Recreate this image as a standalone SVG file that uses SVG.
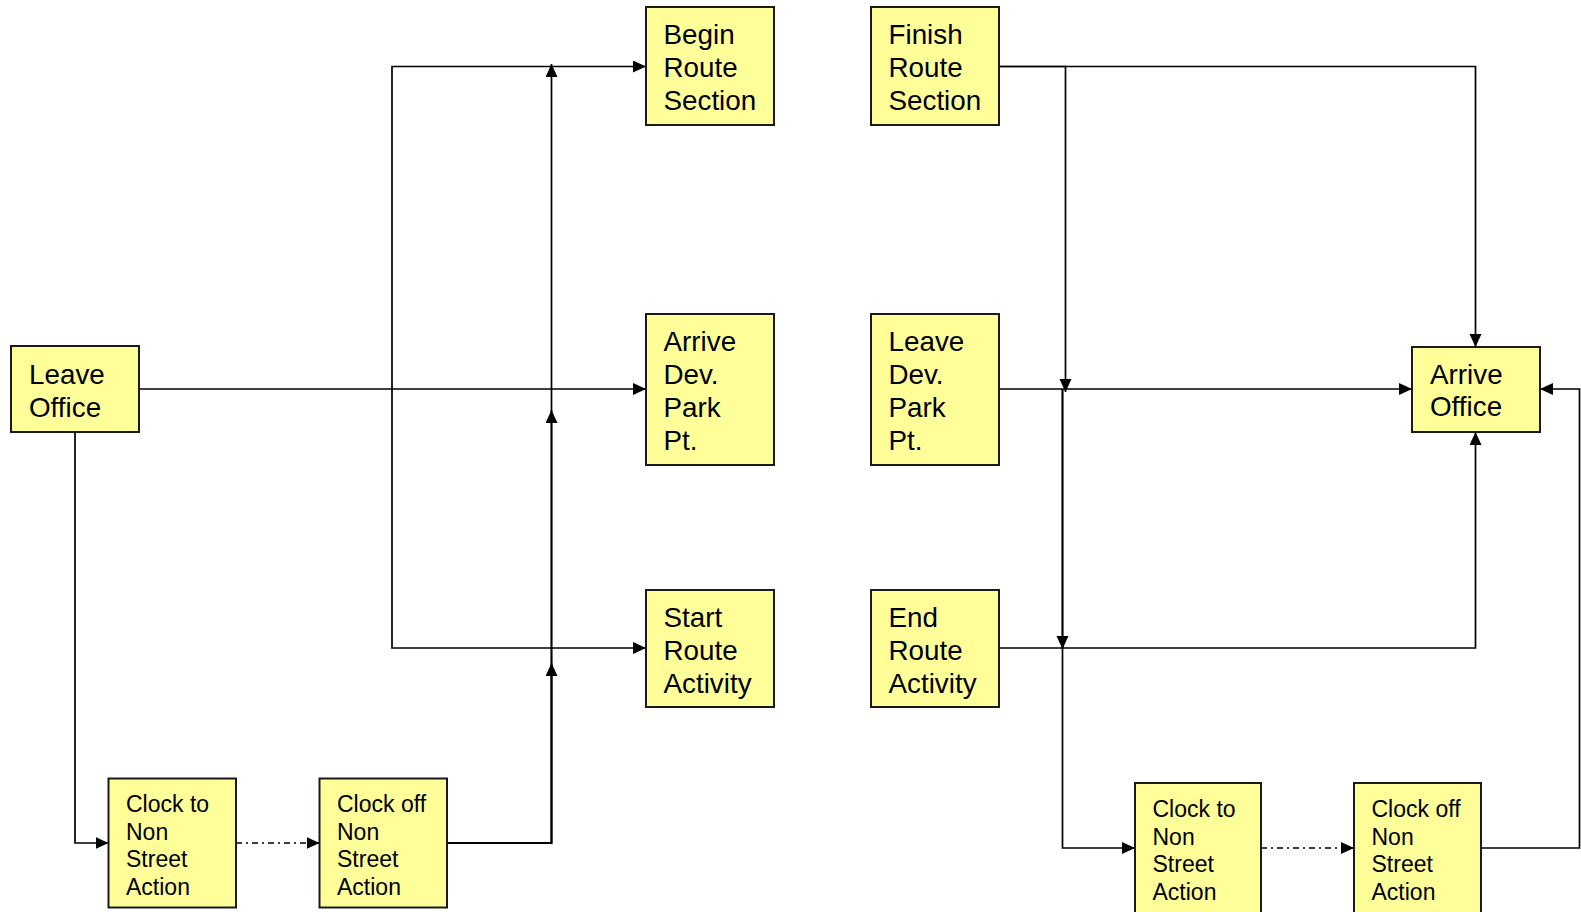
<svg xmlns="http://www.w3.org/2000/svg" width="1581" height="912" viewBox="0 0 1581 912">
<style>
.box{fill:#FFFF99;stroke:#1a1a1a;stroke-width:2}
.big{font-family:"Liberation Sans",Arial,sans-serif;font-size:27.8px;fill:#000}
.small{font-family:"Liberation Sans",Arial,sans-serif;font-size:23px;fill:#000}
.c{fill:none;stroke:#000;stroke-width:1.7}
.a{marker-end:url(#arr)}
.dd{stroke-dasharray:6 4 2 4}
</style>
<defs>
<marker id="arr" markerUnits="userSpaceOnUse" markerWidth="14" markerHeight="13" refX="13" refY="6" orient="auto">
<path d="M0,0 L13,6 L0,12 z" fill="#000"/>
</marker>
</defs>
<g id="connectors">
<path class="c" d="M139,389 H392" stroke-width="2.4"/>
<path class="c a" d="M392,389 V66.5 H646"/>
<path class="c a" d="M392,389 H646"/>
<path class="c a" d="M392,389 V648 H646"/>
<path class="c a" d="M75,432 V843 H108.5"/>
<path class="c dd a" d="M236,843 H319.5"/>
<path class="c a" d="M447,843 H551.5 V663"/>
<path class="c a" d="M447,843 H551.5 V410"/>
<path class="c a" d="M447,843 H551.5 V64"/>
<path class="c a" d="M999,66.5 H1475.5 V347"/>
<path class="c a" d="M999,66.5 H1065.5 V392"/>
<path class="c a" d="M999,389 H1412"/>
<path class="c a" d="M1062.5,389 V649"/>
<path class="c a" d="M1062.5,389 V848 H1135"/>
<path class="c a" d="M999,648 H1475.5 V432"/>
<path class="c dd a" d="M1261,848 H1354"/>
<path class="c a" d="M1481,848 H1579.5 V389 H1540"/>
</g>
<g id="leave-office">
<rect class="box" x="11" y="346" width="128" height="86"/>
<text class="big"><tspan x="29" y="384">Leave</tspan><tspan x="29" y="416.5">Office</tspan></text>
</g>
<g id="begin-route-section">
<rect class="box" x="646" y="7" width="128" height="118"/>
<text class="big"><tspan x="663.5" y="44">Begin</tspan><tspan x="663.5" y="77">Route</tspan><tspan x="663.5" y="110">Section</tspan></text>
</g>
<g id="arrive-dev-park-pt">
<rect class="box" x="646" y="314" width="128" height="151"/>
<text class="big"><tspan x="663.5" y="351">Arrive</tspan><tspan x="663.5" y="384">Dev.</tspan><tspan x="663.5" y="417">Park</tspan><tspan x="663.5" y="450">Pt.</tspan></text>
</g>
<g id="start-route-activity">
<rect class="box" x="646" y="590" width="128" height="117"/>
<text class="big"><tspan x="663.5" y="627">Start</tspan><tspan x="663.5" y="660">Route</tspan><tspan x="663.5" y="693">Activity</tspan></text>
</g>
<g id="finish-route-section">
<rect class="box" x="871" y="7" width="128" height="118"/>
<text class="big"><tspan x="888.5" y="44">Finish</tspan><tspan x="888.5" y="77">Route</tspan><tspan x="888.5" y="110">Section</tspan></text>
</g>
<g id="leave-dev-park-pt">
<rect class="box" x="871" y="314" width="128" height="151"/>
<text class="big"><tspan x="888.5" y="351">Leave</tspan><tspan x="888.5" y="384">Dev.</tspan><tspan x="888.5" y="417">Park</tspan><tspan x="888.5" y="450">Pt.</tspan></text>
</g>
<g id="end-route-activity">
<rect class="box" x="871" y="590" width="128" height="117"/>
<text class="big"><tspan x="888.5" y="627">End</tspan><tspan x="888.5" y="660">Route</tspan><tspan x="888.5" y="693">Activity</tspan></text>
</g>
<g id="arrive-office">
<rect class="box" x="1412" y="347" width="128" height="85"/>
<text class="big"><tspan x="1430" y="383.5">Arrive</tspan><tspan x="1430" y="416">Office</tspan></text>
</g>
<g id="clock-to-non-street-action-1">
<rect class="box" x="108.5" y="778.5" width="127.5" height="129"/>
<text class="small"><tspan x="126" y="812">Clock to</tspan><tspan x="126" y="839.5">Non</tspan><tspan x="126" y="867">Street</tspan><tspan x="126" y="894.5">Action</tspan></text>
</g>
<g id="clock-off-non-street-action-1">
<rect class="box" x="319.5" y="778.5" width="127.5" height="129"/>
<text class="small"><tspan x="337" y="812">Clock off</tspan><tspan x="337" y="839.5">Non</tspan><tspan x="337" y="867">Street</tspan><tspan x="337" y="894.5">Action</tspan></text>
</g>
<g id="clock-to-non-street-action-2">
<rect class="box" x="1135" y="783" width="126" height="135"/>
<text class="small"><tspan x="1152.5" y="817">Clock to</tspan><tspan x="1152.5" y="844.5">Non</tspan><tspan x="1152.5" y="872">Street</tspan><tspan x="1152.5" y="899.5">Action</tspan></text>
</g>
<g id="clock-off-non-street-action-2">
<rect class="box" x="1354" y="783" width="127" height="135"/>
<text class="small"><tspan x="1371.5" y="817">Clock off</tspan><tspan x="1371.5" y="844.5">Non</tspan><tspan x="1371.5" y="872">Street</tspan><tspan x="1371.5" y="899.5">Action</tspan></text>
</g>
</svg>
